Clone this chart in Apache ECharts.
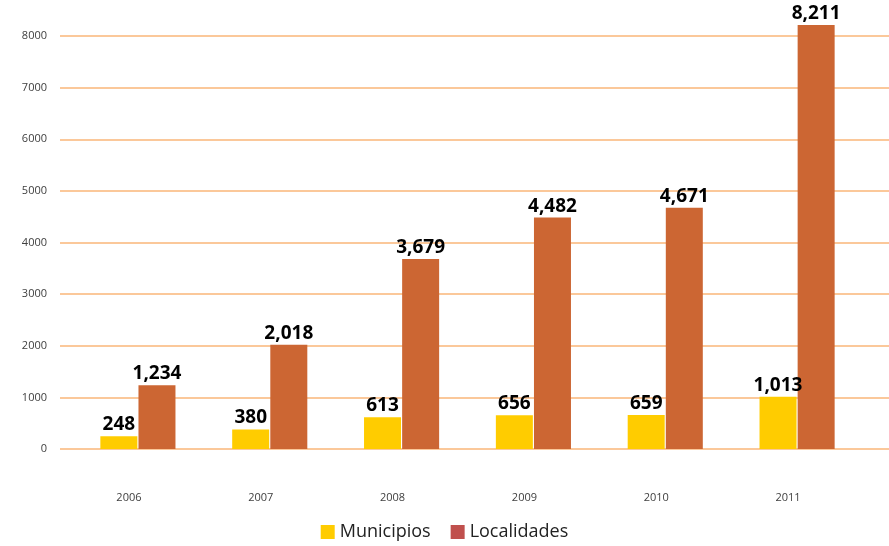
<!DOCTYPE html>
<html><head><meta charset="utf-8">
<script src="https://cdn.jsdelivr.net/npm/echarts@6/dist/echarts.min.js"></script>
<style>html,body{margin:0;padding:0;background:#fff}#c{width:889px;height:546px}</style>
</head><body><div id="c"></div>
<script>
const years = ['2006','2007','2008','2009','2010','2011'];
const municipios = [248, 380, 613, 656, 659, 1013];
const localidades = [1234, 2018, 3679, 4482, 4671, 8211];
const yTicks = [0, 1000, 8000];

const chart = echarts.init(document.getElementById('c'));
const font = "'Open Sans', 'Liberation Sans', sans-serif";
const lbl = {
  show: true, position: 'top', distance: 2,
  color: '#000', fontWeight: 'bold', fontSize: 19, fontFamily: font,
  formatter: p => p.value.toLocaleString('en-US')
};
chart.setOption({
  animation: false,
  grid: [
    {left: 60, right: 0, top: 36, bottom: 97},
    {left: 72, right: 26, top: 36, bottom: 97}
  ],
  xAxis: [
    {gridIndex: 0, type: 'category', data: years, show: false},
    {gridIndex: 1, type: 'category', data: years,
     axisLine: {show: false}, axisTick: {show: false},
     axisLabel: {color: '#404040', fontSize: 11, fontFamily: font, margin: 43, padding: [0, 18, 0, 0]}}
  ],
  yAxis: [
    {gridIndex: 0, type: 'value', min: yTicks[0], max: yTicks[2], interval: yTicks[1],
     axisLine: {show: false}, axisTick: {show: false},
     axisLabel: {color: '#404040', fontSize: 11, fontFamily: font, margin: 13, formatter: v => String(v)},
     splitLine: {lineStyle: {color: '#FBC89A', width: 2}}},
    {gridIndex: 1, type: 'value', min: yTicks[0], max: yTicks[2], interval: yTicks[1], show: false,
     splitLine: {show: false}}
  ],
  legend: {
    bottom: 0, left: 'center', itemWidth: 14, itemHeight: 14, itemGap: 20,
    icon: 'rect',
    textStyle: {fontSize: 18, color: '#222', fontFamily: font},
    data: [
      {name: 'Municipios', itemStyle: {color: '#FFCC00'}},
      {name: 'Localidades', itemStyle: {color: '#C0504D'}}
    ]
  },
  series: [
    {name: 'Municipios', type: 'bar', xAxisIndex: 1, yAxisIndex: 1, data: municipios,
     barWidth: 37, barGap: '3%', clip: false,
     itemStyle: {color: '#FFCC00'}, label: lbl},
    {name: 'Localidades', type: 'bar', xAxisIndex: 1, yAxisIndex: 1, data: localidades,
     barWidth: 37, clip: false,
     itemStyle: {color: '#CC6633'}, label: lbl}
  ]
});
</script></body></html>
